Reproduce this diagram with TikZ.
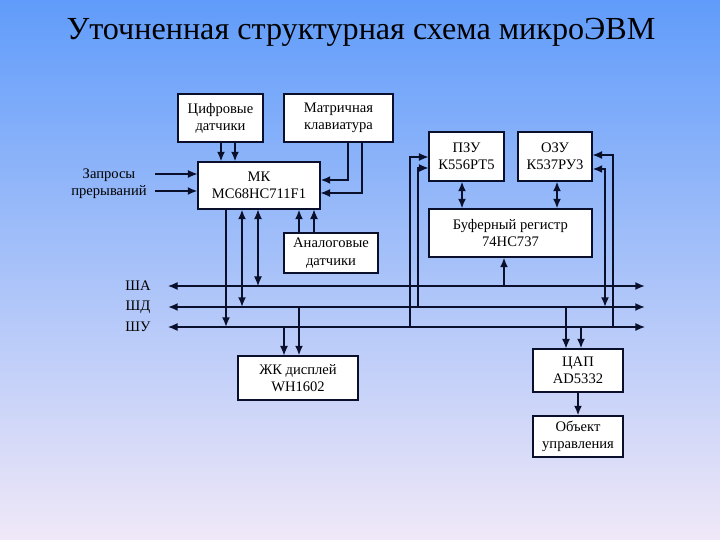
\documentclass[tikz,border=0pt]{standalone}
\usepackage{fontspec}
\setmainfont{Liberation Serif}
\usetikzlibrary{arrows.meta,calc}
\definecolor{ln}{RGB}{10,16,44}
\definecolor{bgtop}{RGB}{96,156,250}
\definecolor{bgmid}{RGB}{165,200,245}
\definecolor{bgbot}{RGB}{240,232,248}
\begin{document}
\begin{tikzpicture}[x=0.02cm,y=-0.02cm,
  box/.style={draw=ln, line width=0.6pt, fill=white, inner sep=0pt, align=center,
    font=\fontsize{8.3}{9.8}\selectfont},
  sz/.style 2 args={minimum width=#1*0.02cm, minimum height=#2*0.02cm},
  lbl/.style={align=center, inner sep=0pt, font=\fontsize{8.3}{9.8}\selectfont},
  thk/.style={draw=ln, line width=1.6pt},
  thn/.style={draw=ln, line width=0.65pt},
  toarr/.style={-{Latex[length=5.5pt,width=4.6pt]}},
  fromarr/.style={{Latex[length=5.5pt,width=4.6pt]}-},
  botharr/.style={{Latex[length=5.5pt,width=4.6pt]}-{Latex[length=5.5pt,width=4.6pt]}}
]
\shade[top color=bgtop, middle color=bgmid, bottom color=bgbot] (0,0) rectangle (720,540);
\useasboundingbox (0,0) rectangle (720,540);

\node[font=\fontsize{18.3}{20}\selectfont] (title) at (361,32) {Уточненная структурная схема микроЭВМ};

% boxes
\node[box, sz={85}{48}] (dig) at (220.5,118) {Цифровые\\датчики};
\node[box, sz={109}{48}] (kbd) at (338.5,118) {Матричная\\клавиатура};
\node[box, sz={122}{47}] (mk) at (259,185.5) {МК\\MC68HC711F1};
\node[lbl] (irq) at (109,184) {Запросы\\прерываний};
\node[box, sz={94}{40}] (ana) at (331,253) {Аналоговые\\датчики};
\node[box, sz={75}{49}] (rom) at (466.5,156.5) {ПЗУ\\К556РТ5};
\node[box, sz={74}{49}] (ram) at (555,156.5) {ОЗУ\\К537РУ3};
\node[box, sz={163}{48}] (buf) at (510.5,233) {Буферный регистр\\74HC737};
\node[box, sz={120}{44}] (lcd) at (298,378) {ЖК дисплей\\WH1602};
\node[box, sz={90}{43}] (dac) at (578,370.5) {ЦАП\\AD5332};
\node[box, sz={90}{41}] (obj) at (578,436.5) {Объект\\управления};

% buses
\coordinate (shaL) at (168,286); \coordinate (shaM) at (328,286); \coordinate (shaR) at (645,286);
\coordinate (shdL) at (168,307); \coordinate (shdR) at (645,307);
\coordinate (shuL) at (168,327); \coordinate (shuR) at (645,327);
\node[lbl] (lsha) at (138,286) {ША};
\node[lbl] (lshd) at (138,307) {ШД};
\node[lbl] (lshu) at (138,327) {ШУ};
\draw[thn, fromarr] (shaL) -- (shaM);
\draw[thk, toarr] (shaM) -- (shaR);
\draw[thk, botharr] (shdL) -- (shdR);
\draw[thn, botharr] (shuL) -- (shuR);

% column coordinates
\coordinate (d1) at (221,0); \coordinate (d2) at (235,0);
\coordinate (m1) at (226,0); \coordinate (m2) at (242,0); \coordinate (m3) at (258,0);
\coordinate (a1) at (299,0); \coordinate (a2) at (314,0);
\coordinate (r1) at (462,0); \coordinate (r2) at (557,0); \coordinate (b1) at (504,0);
\coordinate (l1) at (284,0); \coordinate (l2) at (299,0);
\coordinate (z1) at (566,0); \coordinate (z2) at (581,0); \coordinate (o1) at (578,0);
\coordinate (k1) at (348,180); \coordinate (k2) at (362,193);
\coordinate (p1) at (410,157); \coordinate (p2) at (418,168);
\coordinate (q1) at (613,155); \coordinate (q2) at (605,169);
\coordinate (i1) at (155,174); \coordinate (i2) at (155,191);

% digital sensors -> MK
\draw[thk, toarr] (dig.south -| d1) -- (mk.north -| d1);
\draw[thk, toarr] (dig.south -| d2) -- (mk.north -| d2);
% interrupts
\draw[thn, toarr] (i1) -- (i1 -| mk.west);
\draw[thk, toarr] (i2) -- (i2 -| mk.west);
% keyboard
\draw[thk, toarr] (kbd.south -| k1) |- (mk.east |- k1);
\draw[thn, toarr] (kbd.south -| k2) |- (mk.east |- k2);
% MK to buses
\draw[thk, toarr] (mk.south -| m1) -- (m1 |- shuL);
\draw[thk, botharr] (mk.south -| m2) -- (m2 |- shdL);
\draw[thn, botharr] (mk.south -| m3) -- (m3 |- shaL);
% analog -> MK
\draw[thk, toarr] (ana.north -| a1) -- (mk.south -| a1);
\draw[thn, toarr] (ana.north -| a2) -- (mk.south -| a2);
% memory
\draw[thk, botharr] (rom.south -| r1) -- (buf.north -| r1);
\draw[thk, botharr] (ram.south -| r2) -- (buf.north -| r2);
\draw[thk, toarr] (b1 |- shaL) -- (buf.south -| b1);
\draw[thn, toarr] (p1 |- shuL) |- (rom.west |- p1);
\draw[thn, toarr] (p2 |- shdL) |- (rom.west |- p2);
\draw[thn, toarr] (q1 |- shuL) |- (ram.east |- q1);
\draw[thk, botharr] (q2 |- shdL) |- (ram.east |- q2);
% LCD
\draw[thn, toarr] (l1 |- shuL) -- (lcd.north -| l1);
\draw[thk, toarr] (l2 |- shdL) -- (lcd.north -| l2);
% DAC
\draw[thn, toarr] (z1 |- shdL) -- (dac.north -| z1);
\draw[thk, toarr] (z2 |- shuL) -- (dac.north -| z2);
\draw[thk, toarr] (dac.south -| o1) -- (obj.north -| o1);
\end{tikzpicture}
\end{document}
